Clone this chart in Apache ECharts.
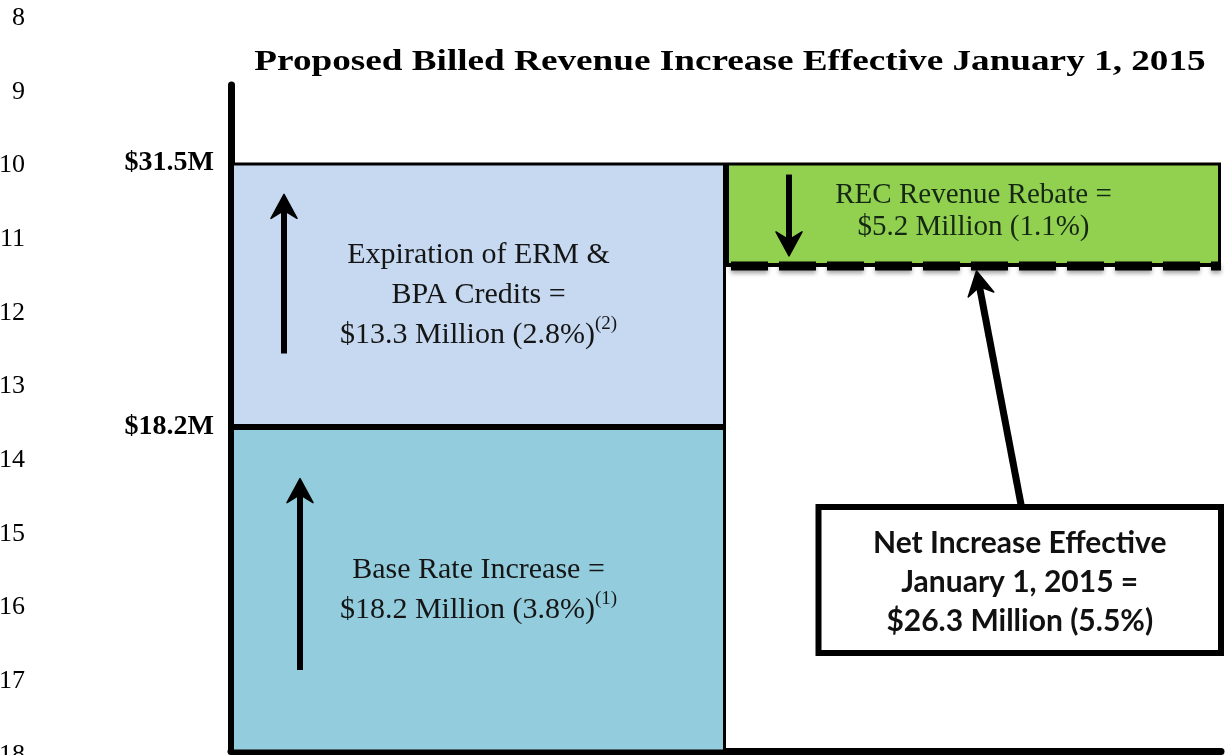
<!DOCTYPE html>
<html><head><meta charset="utf-8">
<script src="https://cdn.jsdelivr.net/npm/echarts@6/dist/echarts.min.js"></script>
<style>html,body{margin:0;padding:0;background:#fff}#c{width:1225px;height:755px}</style>
</head><body><div id="c"></div>
<script>
// ---- data ----
const categories = ['Increases', 'Net Increase'];
const baseRate = [18.2, '-'];        // Base Rate Increase ($M)
const ermBpa = [13.3, '-'];          // Expiration of ERM & BPA Credits ($M)
const netIncrease = ['-', 26.3];     // Net increase ($M) – level of dashed line
const recRebate = ['-', 5.2];        // REC Revenue Rebate ($M)
const basePct = '3.8%';
const ermPct = '2.8%';
const recPct = '1.1%';
const netPct = '5.5%';
const tickValues = [18.2, 31.5];
const lineNumbers = ['8', '9', '10', '11', '12', '13', '14', '15', '16', '17', '18'];
const titleText = 'Proposed Billed Revenue Increase Effective January 1, 2015';

const SERIF = "Liberation Serif";
const SANS = "Lato";
const TXT = '#151515';

const chart = echarts.init(document.getElementById('c'), null, {renderer: 'canvas'});

const richBase = {
  t: {fontFamily: SERIF, fontSize: 30, lineHeight: 40, color: TXT},
  s: {fontFamily: SERIF, fontSize: 19, lineHeight: 14, verticalAlign: 'top', color: TXT}
};

const option = {
  animation: false,
  backgroundColor: '#fff',
  grid: {left: 231, right: 4, top: 85, bottom: 4, containLabel: false},
  xAxis: {
    type: 'category', data: categories,
    axisLine: {show: true, lineStyle: {color: '#000', width: 7}},
    axisTick: {show: false}, axisLabel: {show: false}, splitLine: {show: false}
  },
  yAxis: {
    type: 'value', min: 1.9, max: 35.4,
    axisLine: {show: true, lineStyle: {color: '#000', width: 7}},
    axisTick: {show: false}, splitLine: {show: false},
    axisLabel: {
      customValues: tickValues,
      formatter: v => '$' + v + 'M',
      fontFamily: SERIF, fontWeight: 'bold', fontSize: 28, color: '#000', margin: 17
    }
  },
  series: [
    {
      type: 'bar', name: 'Base Rate Increase', stack: 's', data: baseRate, barWidth: '100%',
      itemStyle: {color: '#93CDDD', borderColor: '#000', borderWidth: 3},
      label: {
        show: true, position: 'inside',
        formatter: () => '{t|Base Rate Increase =}\n{t|$' + baseRate[0] + ' Million (' + basePct + ')}{s|(1)}',
        rich: richBase
      }
    },
    {
      type: 'bar', name: 'Expiration of ERM & BPA Credits', stack: 's', data: ermBpa, barWidth: '100%',
      itemStyle: {color: '#C6D9F1', borderColor: '#000', borderWidth: 3},
      label: {
        show: true, position: 'inside',
        formatter: () => '{t|Expiration of ERM &}\n{t|BPA Credits =}\n{t|$' + ermBpa[0] + ' Million (' + ermPct + ')}{s|(2)}',
        rich: richBase
      }
    },
    {
      type: 'bar', name: 'Net', stack: 's', data: netIncrease, barWidth: '100%', silent: true,
      itemStyle: {color: 'rgba(0,0,0,0)', borderWidth: 0}
    },
    {
      type: 'bar', name: 'REC Revenue Rebate', stack: 's', data: recRebate, barWidth: '100%',
      itemStyle: {color: '#92D050', borderColor: '#000', borderWidth: 3},
      label: {
        show: true, position: 'inside', offset: [0, -3],
        formatter: () => '{t|REC Revenue Rebate =}\n{t|$' + recRebate[1] + ' Million (' + recPct + ')}',
        rich: {t: {fontFamily: SERIF, fontSize: 29, lineHeight: 32, color: '#142814'}}
      }
    },
    {
      type: 'custom', name: 'Net level', z: 5,
      data: categories.map((c, i) => netIncrease[i] === '-' ? null : [i, netIncrease[i]]).filter(Boolean),
      renderItem: (params, api) => {
        const p = api.coord([api.value(0), api.value(1)]);
        const w = api.size([1, 0])[0];
        const x1 = p[0] - w / 2, x2 = p[0] + w / 2;
        return {
          type: 'group', children: [
            {type: 'line', shape: {x1, y1: p[1], x2, y2: p[1]}, style: {stroke: '#000', lineWidth: 2}},
            {type: 'line', shape: {x1, y1: p[1], x2, y2: p[1]},
             style: {stroke: '#000', lineWidth: 9, lineDash: [37, 11], lineDashOffset: 43,
                     shadowBlur: 4, shadowOffsetY: 3, shadowColor: 'rgba(0,0,0,0.35)'}}
          ]
        };
      }
    }
  ]
};
chart.setOption(option);

// ---- annotations positioned from the chart's scales ----
const px = (c, v) => chart.convertToPixel({gridIndex: 0}, [c, v]);
const c0 = px(0, 0)[0], c1 = px(1, 0)[0];
const half = (c1 - c0) / 2;
const left0 = c0 - half, left1 = c1 - half, right1 = c1 + half;
const gridBottom = px(0, 1.9)[1];

function arrow(tail, tip, opt) {
  opt = opt || {};
  const L = opt.head || 24, W = opt.halfW || 13, N = opt.notch || 8, lw = opt.lw || 6;
  const dx = tip[0] - tail[0], dy = tip[1] - tail[1];
  const len = Math.hypot(dx, dy);
  const d = [dx / len, dy / len], n = [-d[1], d[0]];
  const back = [tip[0] - d[0] * L, tip[1] - d[1] * L];
  const shaftEnd = [tip[0] - d[0] * (L - N), tip[1] - d[1] * (L - N)];
  return {
    type: 'group', z: 100, children: [
      {type: 'line', z: 100, shape: {x1: tail[0], y1: tail[1], x2: shaftEnd[0], y2: shaftEnd[1]},
       style: {stroke: '#000', lineWidth: lw}},
      {type: 'polygon', z: 100, shape: {points: [
        tip,
        [back[0] + n[0] * W, back[1] + n[1] * W],
        shaftEnd,
        [back[0] - n[0] * W, back[1] - n[1] * W]
      ]}, style: {fill: '#000', stroke: '#000', lineWidth: 1.5, lineJoin: 'round'}}
    ]
  };
}

const netY = px(1, netIncrease[1])[1];
const recTop = px(1, netIncrease[1] + recRebate[1])[1];

const graphics = [];
// document line numbers
lineNumbers.forEach((t, i) => {
  graphics.push({type: 'text', x: 25, y: 18 + i * 73.7, z: 100,
    style: {text: t, align: 'right', verticalAlign: 'middle', fontFamily: SERIF, fontSize: 26, fill: '#000'}});
});
// title
graphics.push({type: 'text', x: 730, y: 62, z: 100, scaleX: 1.24, originX: 0, originY: 0,
  style: {text: titleText, align: 'center', verticalAlign: 'middle', fontFamily: SERIF, fontWeight: 'bold', fontSize: 30, fill: '#000'}});
// arrows
graphics.push(arrow([left0 + 53, px(0, 21.9)[1]], [left0 + 53, px(0, 29.9)[1]]));
graphics.push(arrow([left0 + 69, px(0, 5.97)[1]], [left0 + 69, px(0, 15.6)[1]]));
graphics.push(arrow([left1 + 63, recTop + 12], [left1 + 63, netY - 10]));
// net callout box
const boxL = c1 - 155, boxR = right1, boxT = gridBottom - 244, boxB = gridBottom - 98;
graphics.push(arrow([c1 + 48, boxT], [c1 + 3, netY + 5], {lw: 7}));
graphics.push({type: 'rect', z: 110, shape: {x: boxL, y: boxT, width: boxR - boxL, height: boxB - boxT},
  style: {fill: '#fff', stroke: '#000', lineWidth: 6}});
graphics.push({type: 'text', x: (boxL + boxR) / 2, y: (boxT + boxB) / 2 + 2, z: 111,
  style: {text: 'Net Increase Effective\nJanuary 1, 2015 =\n$' + netIncrease[1] + ' Million (' + netPct + ')',
    align: 'center', verticalAlign: 'middle', lineHeight: 39,
    fontFamily: SANS, fontWeight: 'bold', fontSize: 30, fill: '#111'}});

chart.setOption({graphic: graphics});
</script>
</body></html>
